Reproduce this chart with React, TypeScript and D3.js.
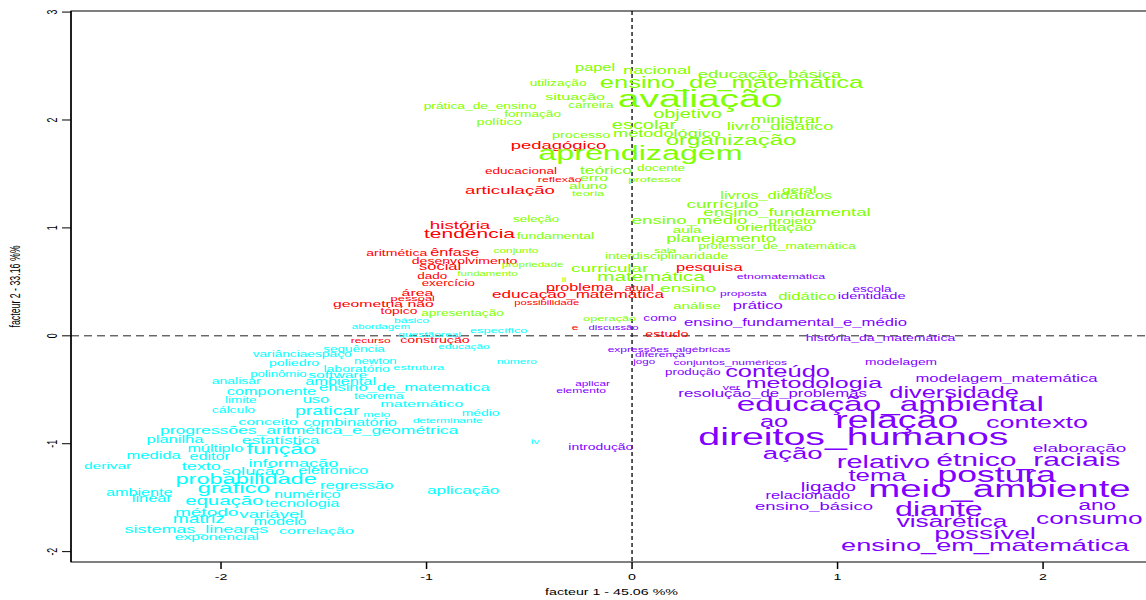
import React from 'react';
import * as d3 from 'd3';

// [label, facteur 1, facteur 2, text size]
type Word = [string, number, number, number];

const classRedWords: Word[] = [
  ['pedagógico', -0.358, 1.770, 12.3],
  ['educacional', -0.540, 1.524, 9.0],
  ['reflexão', -0.352, 1.453, 8.2],
  ['articulação', -0.594, 1.353, 12.4],
  ['história', -0.837, 1.025, 12.5],
  ['tendência', -0.791, 0.947, 14.0],
  ['aritmética', -1.145, 0.771, 9.4],
  ['ênfase', -0.863, 0.766, 10.9],
  ['desenvolvimento', -0.815, 0.700, 9.4],
  ['social', -0.934, 0.643, 11.0],
  ['dado', -0.972, 0.550, 9.0],
  ['exercício', -0.894, 0.487, 8.9],
  ['problema', -0.255, 0.450, 10.8],
  ['atual', 0.034, 0.445, 9.0],
  ['área', -1.044, 0.404, 10.6],
  ['pessoal', -1.067, 0.351, 8.6],
  ['educação_matemática', -0.263, 0.382, 11.4],
  ['geometria não', -1.210, 0.301, 10.5],
  ['possibilidade', -0.415, 0.307, 7.5],
  ['tópico', -1.134, 0.229, 9.2],
  ['e', -0.277, 0.079, 8.0],
  ['recurso', -1.272, -0.041, 8.0],
  ['construção', -0.959, -0.036, 9.5],
  ['estudo', 0.169, 0.020, 9.6],
  ['pesquisa', 0.376, 0.635, 11.1],
];

const classGreenWords: Word[] = [
  ['papel', -0.180, 2.482, 10.9],
  ['nacional', 0.122, 2.463, 12.2],
  ['educação_básica', 0.669, 2.426, 12.3],
  ['ensino_de_matemática', 0.484, 2.348, 17.0],
  ['avaliação', 0.331, 2.192, 26.0],
  ['utilização', -0.360, 2.338, 9.1],
  ['situação', -0.277, 2.219, 10.7],
  ['prática_de_ensino', -0.740, 2.131, 9.2],
  ['carreira', -0.200, 2.136, 8.9],
  ['formação', -0.484, 2.059, 9.1],
  ['político', -0.647, 1.977, 9.5],
  ['objetivo', 0.270, 2.052, 13.3],
  ['escolar', 0.058, 1.958, 13.3],
  ['ministrar', 0.749, 2.008, 12.2],
  ['livro_didático', 0.720, 1.946, 12.2],
  ['metodológico', 0.170, 1.883, 12.1],
  ['processo', -0.248, 1.860, 9.6],
  ['organização', 0.482, 1.814, 16.0],
  ['aprendizagem', 0.041, 1.688, 21.5],
  ['teórico', -0.127, 1.535, 11.5],
  ['docente', 0.141, 1.558, 9.0],
  ['erro', -0.185, 1.461, 10.6],
  ['professor', 0.112, 1.449, 8.6],
  ['aluno', -0.214, 1.391, 10.4],
  ['teoria', -0.214, 1.322, 8.6],
  ['seleção', -0.467, 1.081, 8.9],
  ['fundamental', -0.373, 0.929, 9.4],
  ['geral', 0.813, 1.359, 10.3],
  ['livros_didáticos', 0.701, 1.299, 10.9],
  ['currículo', 0.440, 1.220, 12.5],
  ['ensino_fundamental', 0.754, 1.148, 12.4],
  ['ensino_médio', 0.280, 1.074, 12.4],
  ['projeto', 0.779, 1.068, 10.4],
  ['aula', 0.268, 0.988, 10.2],
  ['orientação', 0.692, 0.998, 11.0],
  ['planejamento', 0.433, 0.910, 12.2],
  ['professor_de_matemática', 0.706, 0.832, 9.1],
  ['sala', 0.161, 0.795, 8.0],
  ['interdisciplinaridade', 0.168, 0.737, 9.3],
  ['conjunto', -0.565, 0.788, 7.9],
  ['propriedade', -0.484, 0.658, 7.7],
  ['fundamento', -0.704, 0.580, 7.6],
  ['curricular', -0.109, 0.626, 12.5],
  ['matemática', 0.092, 0.545, 13.9],
  ['ii', -0.331, 0.515, 7.0],
  ['ensino', 0.273, 0.447, 12.7],
  ['didático', 0.852, 0.366, 11.2],
  ['análise', 0.316, 0.278, 10.0],
  ['apresentação', -0.825, 0.211, 9.1],
  ['operação', -0.109, 0.165, 8.5],
];

const classCyanWords: Word[] = [
  ['básico', -1.073, 0.145, 8.1],
  ['abordagem', -1.222, 0.083, 7.7],
  ['questão', -1.034, 0.015, 8.0],
  ['real', -0.881, 0.015, 8.0],
  ['específico', -0.649, 0.054, 8.5],
  ['sequência', -1.353, -0.121, 9.0],
  ['educação', -0.818, -0.102, 7.9],
  ['variância', -1.713, -0.172, 9.1],
  ['espaço', -1.472, -0.172, 9.2],
  ['newton', -1.249, -0.237, 8.8],
  ['poliedro', -1.645, -0.252, 9.4],
  ['laboratório', -1.340, -0.305, 9.4],
  ['estrutura', -1.038, -0.286, 8.6],
  ['número', -0.561, -0.238, 7.9],
  ['polinômio', -1.721, -0.353, 8.8],
  ['software', -1.432, -0.364, 10.4],
  ['analisar', -1.926, -0.422, 9.3],
  ['ambiental', -1.418, -0.424, 10.9],
  ['componente', -1.755, -0.517, 10.8],
  ['ensino_de_matematica', -1.108, -0.485, 11.0],
  ['teorema', -1.233, -0.554, 9.0],
  ['limite', -1.904, -0.594, 9.0],
  ['uso', -1.538, -0.594, 11.0],
  ['matemático', -1.023, -0.631, 10.7],
  ['cálculo', -1.940, -0.686, 9.3],
  ['praticar', -1.483, -0.696, 12.9],
  ['meio', -1.243, -0.732, 8.3],
  ['médio', -0.737, -0.717, 9.2],
  ['conceito', -1.772, -0.796, 10.6],
  ['combinatório', -1.372, -0.804, 10.9],
  ['determinante', -0.897, -0.788, 8.0],
  ['progressões_aritmética_e_geométrica', -1.571, -0.878, 11.7],
  ['planilha', -2.224, -0.965, 11.0],
  ['estatística', -1.710, -0.972, 11.5],
  ['múltiplo', -2.028, -1.048, 10.8],
  ['função', -1.707, -1.052, 15.4],
  ['medida', -2.328, -1.110, 11.0],
  ['editor', -2.055, -1.120, 10.8],
  ['derivar', -2.552, -1.205, 10.3],
  ['texto', -2.096, -1.209, 12.0],
  ['informação', -1.648, -1.178, 12.1],
  ['solução', -1.843, -1.248, 12.2],
  ['eletrônico', -1.454, -1.252, 10.8],
  ['probabilidade', -1.878, -1.329, 15.7],
  ['regressão', -1.340, -1.389, 11.0],
  ['gráfico', -1.938, -1.412, 16.1],
  ['aplicação', -0.822, -1.433, 11.4],
  ['ambiente', -2.398, -1.451, 10.8],
  ['numérico', -1.580, -1.469, 10.8],
  ['linear', -2.337, -1.512, 10.9],
  ['equação', -1.984, -1.534, 13.6],
  ['tecnologia', -1.605, -1.553, 10.9],
  ['método', -2.070, -1.631, 12.7],
  ['variável', -1.755, -1.650, 12.4],
  ['matriz', -2.108, -1.700, 12.8],
  ['modelo', -1.713, -1.723, 10.8],
  ['sistemas_lineares', -2.120, -1.787, 12.0],
  ['correlação', -1.536, -1.801, 10.7],
  ['exponencial', -2.021, -1.863, 10.5],
  ['iv', -0.472, -0.974, 8.0],
];

const classPurpleWords: Word[] = [
  ['discussão', -0.090, 0.070, 7.5],
  ['como', 0.136, 0.164, 9.1],
  ['etnomatemática', 0.724, 0.552, 8.3],
  ['proposta', 0.542, 0.395, 8.0],
  ['escola', 1.168, 0.436, 9.0],
  ['identidade', 1.166, 0.370, 9.8],
  ['prático', 0.612, 0.283, 11.1],
  ['ensino_fundamental_e_médio', 0.795, 0.127, 11.1],
  ['história_da_matemática', 1.209, -0.014, 9.4],
  ['expressões_algébricas', 0.180, -0.124, 8.0],
  ['diferença', 0.136, -0.171, 8.1],
  ['jogo', 0.059, -0.239, 7.7],
  ['conjuntos_numéricos', 0.478, -0.248, 8.0],
  ['modelagem', 1.309, -0.244, 9.2],
  ['produção', 0.296, -0.331, 8.9],
  ['conteúdo', 0.708, -0.333, 17.0],
  ['ver', 0.483, -0.479, 8.3],
  ['metodologia', 0.885, -0.436, 16.7],
  ['resolução_de_problemas', 0.684, -0.537, 11.2],
  ['diversidade', 1.567, -0.524, 16.9],
  ['modelagem_matemática', 1.822, -0.394, 11.1],
  ['aplicar', -0.192, -0.442, 7.9],
  ['elemento', -0.248, -0.510, 8.1],
  ['introdução', -0.152, -1.032, 9.3],
  ['educação_ambiental', 1.257, -0.635, 22.2],
  ['ao', 0.691, -0.791, 17.0],
  ['relação', 1.288, -0.780, 25.0],
  ['contexto', 1.971, -0.802, 18.0],
  ['direitos_humanos', 1.077, -0.937, 26.2],
  ['elaboração', 2.177, -1.043, 12.6],
  ['ação', 0.782, -1.086, 18.4],
  ['relativo', 1.223, -1.163, 19.3],
  ['étnico_raciais', 1.928, -1.143, 20.1],
  ['tema', 1.193, -1.293, 17.3],
  ['postura', 1.775, -1.285, 23.7],
  ['ligado', 0.955, -1.398, 13.8],
  ['meio_ambiente', 1.788, -1.421, 25.6],
  ['relacionado', 0.855, -1.481, 10.9],
  ['ensino_básico', 0.885, -1.579, 12.3],
  ['ano', 2.264, -1.570, 15.0],
  ['diante', 1.493, -1.611, 21.5],
  ['consumo', 2.225, -1.695, 17.5],
  ['visarética', 1.557, -1.717, 17.5],
  ['possível', 1.718, -1.827, 18.5],
  ['ensino_em_matemática', 1.718, -1.941, 18.1],
];

const classColors = ['#FF0000', '#80FF00', '#00FFFF', '#8000FF'];
const xTicks = [-2, -1, 0, 1, 2];
const yTicks = [-2, -1, 0, 1, 2, 3];
const xLabel = 'facteur  1  - 45.06 %%';
const yLabel = 'facteur  2  - 33.16 %%';

export default function App() {
  const W = 1146;
  const H = 600;
  const SX = 1.62; // horizontal stretch of the reference picture
  const K = 1.5 / SX; // font size correction so widths stay the same
  const left = 71, right = 1152, top = 11, bottom = 562;
  const x = d3.scaleLinear().domain([-2.73, 2.53]).range([left, right]);
  const y = d3.scaleLinear().domain([-2.096, 3.01]).range([bottom, top]);
  const font = '"Liberation Sans", Arial, Helvetica, sans-serif';
  const axisSize = 9.5 * K;

  const groups: { words: Word[]; color: string }[] = [
    { words: classRedWords, color: classColors[0] },
    { words: classGreenWords, color: classColors[1] },
    { words: classCyanWords, color: classColors[2] },
    { words: classPurpleWords, color: classColors[3] },
  ];

  return (
    <svg
      width={W}
      height={H}
      viewBox={`0 0 ${W} ${H}`}
      style={{ position: 'absolute', left: 0, top: 0, background: '#fff' }}
      fontFamily={font}
    >
      <rect x={0} y={0} width={W} height={H} fill="#fff" />
      {/* dashed zero lines */}
      <line x1={x(0)} x2={x(0)} y1={top} y2={bottom} stroke="#222" strokeWidth={1.5} strokeDasharray="4,3" />
      <line x1={left} x2={right} y1={y(0)} y2={y(0)} stroke="#222" strokeWidth={1} strokeDasharray="8,5" />

      {/* words */}
      {groups.map((g, gi) => (
        <g key={gi} fill={g.color}>
          {g.words.map(([label, fx, fy, size], i) => (
            <text
              key={i}
              transform={`translate(${x(fx)},${y(fy)}) scale(${SX},1)`}
              textAnchor="middle"
              dominantBaseline="central"
              fontSize={size * K}
            >
              {label}
            </text>
          ))}
        </g>
      ))}

      {/* box */}
      <rect x={left} y={top} width={right - left} height={bottom - top} fill="none" stroke="#000" strokeWidth={1} />
      <line x1={left} x2={left} y1={top} y2={bottom} stroke="#000" strokeWidth={1.5} />

      {/* x axis */}
      {xTicks.map((t) => (
        <g key={'x' + t}>
          <line x1={x(t)} x2={x(t)} y1={bottom} y2={bottom + 7} stroke="#000" strokeWidth={1.5} />
          <text
            transform={`translate(${x(t)},${bottom + 15}) scale(${SX},1)`}
            textAnchor="middle"
            dominantBaseline="central"
            fontSize={axisSize}
            fill="#000"
          >
            {t < 0 ? '-' + Math.abs(t) : String(t)}
          </text>
        </g>
      ))}
      {/* y axis */}
      {yTicks.map((t) => (
        <g key={'y' + t}>
          <line x1={left - 9} x2={left} y1={y(t)} y2={y(t)} stroke="#000" strokeWidth={1} />
          <text
            transform={`translate(${left - 19},${y(t)}) scale(${SX},1) rotate(-90)`}
            textAnchor="middle"
            dominantBaseline="central"
            fontSize={axisSize}
            fill="#000"
          >
            {t < 0 ? '-' + Math.abs(t) : String(t)}
          </text>
        </g>
      ))}
      <text
        transform={`translate(${(left + right) / 2},${592}) scale(${SX},1)`}
        textAnchor="middle"
        dominantBaseline="central"
        fontSize={axisSize}
        fill="#000"
      >
        {xLabel}
      </text>
      <text
        transform={`translate(${15},${(top + bottom) / 2}) scale(${SX},1) rotate(-90)`}
        textAnchor="middle"
        dominantBaseline="central"
        fontSize={axisSize}
        fill="#000"
      >
        {yLabel}
      </text>
    </svg>
  );
}
